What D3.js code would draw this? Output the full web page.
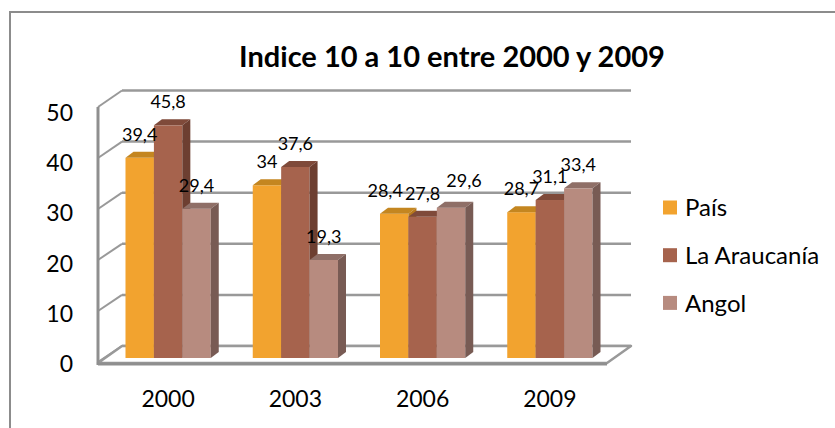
<!DOCTYPE html>
<html>
<head>
<meta charset="utf-8">
<script src="https://cdn.jsdelivr.net/npm/d3@7"></script>
<style>
  body { margin: 0; background: #fff; }
  text { font-family: Lato, "Open Sans", sans-serif; fill: #000; }
</style>
</head>
<body>
<svg></svg>
<script>
var W = 835, H = 428;

// data
var years = ["2000", "2003", "2006", "2009"];
var seriesNames = ["País", "La Araucanía", "Angol"];
var pais = [39.4, 34, 28.4, 28.7];
var araucania = [45.8, 37.6, 27.8, 31.1];
var angol = [29.4, 19.3, 29.6, 33.4];
var yTicks = [0, 10, 20, 30, 40, 50];
var title = "Indice 10 a 10 entre 2000 y 2009";

var seriesValues = [pais, araucania, angol];
var faceColors = [
  {front: "#f2a32f", top: "#c48620", side: "#b7781b"},
  {front: "#a6634d", top: "#7f4a3a", side: "#6d3f31"},
  {front: "#b78b7f", top: "#8f6f67", side: "#785b54"}
];

var svg = d3.select("svg").attr("width", W).attr("height", H);

// outer chart border (right and bottom edges are off the picture)
svg.append("rect")
  .attr("x", 10).attr("y", 12)
  .attr("width", W).attr("height", H)
  .attr("fill", "none").attr("stroke", "#8c8c8c").attr("stroke-width", 2);

// title
svg.append("text")
  .attr("x", 452).attr("y", 67)
  .attr("text-anchor", "middle")
  .style("font-size", "29px").style("font-weight", "bold")
  .text(title);

// 3d geometry: back wall, wall front edge, bar front face
var wallDepth = {dx: -24, dy: 16};
var barDepth = {dx: 8, dy: -6};
var backLeft = 122, backRight = 631;

var yBack = d3.scaleLinear().domain([0, 50]).range([346, 90.5]);
var yFrontEdge = d3.scaleLinear().domain([0, 50]).range([362, 107]);
var yLabel = d3.scaleLinear().domain([0, 50]).range([364, 112.5]);
var yBar = d3.scaleLinear().domain([0, 50]).range([358, 104]);

var x = d3.scaleBand()
  .domain(years)
  .range([104.5, 613.5])
  .paddingInner(0.33)
  .paddingOuter(0.165);

var xs = d3.scaleBand()
  .domain(seriesNames)
  .range([0, x.bandwidth()]);

var gridColor = "#999999";

// back wall gridlines
svg.append("g").selectAll("line")
  .data(yTicks)
  .enter()
  .append("line")
    .attr("x1", backLeft).attr("x2", backRight)
    .attr("y1", d => yBack(d)).attr("y2", d => yBack(d))
    .attr("stroke", gridColor).attr("stroke-width", 2.5);

// side wall diagonals
svg.append("g").selectAll("line")
  .data(yTicks)
  .enter()
  .append("line")
    .attr("x1", backLeft + wallDepth.dx).attr("y1", d => yFrontEdge(d))
    .attr("x2", backLeft).attr("y2", d => yBack(d))
    .attr("stroke", gridColor).attr("stroke-width", 2);

// floor
var floorFront = yBack(0) + wallDepth.dy + 1;
svg.append("path")
  .attr("d", "M" + backLeft + "," + yBack(0) +
    "L" + backRight + "," + yBack(0) +
    "L" + (backRight + wallDepth.dx) + "," + floorFront +
    "L" + (backLeft + wallDepth.dx) + "," + floorFront + "Z")
  .attr("fill", "#fff").attr("stroke", gridColor).attr("stroke-width", 2.5)
  .attr("stroke-linejoin", "round");

// front axis lines
svg.append("line")
  .attr("x1", backLeft + wallDepth.dx).attr("x2", backRight + wallDepth.dx)
  .attr("y1", floorFront + 1).attr("y2", floorFront + 1)
  .attr("stroke", "#8f8f8f").attr("stroke-width", 3);
svg.append("line")
  .attr("x1", backLeft + wallDepth.dx).attr("x2", backLeft + wallDepth.dx)
  .attr("y1", yFrontEdge(50)).attr("y2", floorFront + 2)
  .attr("stroke", "#8f8f8f").attr("stroke-width", 3);

// y tick labels
svg.append("g").selectAll("text")
  .data(yTicks)
  .enter()
  .append("text")
    .attr("x", 73).attr("y", d => yLabel(d))
    .attr("dy", "0.36em")
    .attr("text-anchor", "end")
    .style("font-size", "23px")
    .text(d => d);

// x tick labels
svg.append("g").selectAll("text")
  .data(years)
  .enter()
  .append("text")
    .attr("x", d => x(d) + x.bandwidth() / 2).attr("y", 407)
    .attr("text-anchor", "middle")
    .style("font-size", "23px")
    .text(d => d);

// bars
var bars = [];
years.forEach(function(yr, i) {
  seriesNames.forEach(function(s, j) {
    bars.push({year: yr, series: s, j: j, value: seriesValues[j][i]});
  });
});

var barG = svg.append("g");
bars.forEach(function(b) {
  var x0 = x(b.year) + xs(b.series), x1 = x0 + xs.bandwidth();
  var yt = yBar(b.value), yb = yBar(0);
  var c = faceColors[b.j];
  var g = barG.append("g");
  g.append("rect")
    .attr("x", x0).attr("y", yt)
    .attr("width", x1 - x0).attr("height", yb - yt)
    .attr("fill", c.front);
  g.append("path")
    .attr("d", "M" + x0 + "," + yt + "L" + (x0 + barDepth.dx) + "," + (yt + barDepth.dy) +
      "L" + (x1 + barDepth.dx) + "," + (yt + barDepth.dy) + "L" + x1 + "," + yt + "Z")
    .attr("fill", c.top);
  g.append("path")
    .attr("d", "M" + x1 + "," + yt + "L" + (x1 + barDepth.dx) + "," + (yt + barDepth.dy) +
      "L" + (x1 + barDepth.dx) + "," + (yb + barDepth.dy) + "L" + x1 + "," + yb + "Z")
    .attr("fill", c.side);
});

// data labels
var fmt = d => String(d).replace(".", ",");
var labelG = svg.append("g");
years.forEach(function(yr) {
  var group = bars.filter(b => b.year === yr).map(function(b) {
    var t = labelG.append("text")
      .attr("text-anchor", "middle")
      .style("font-size", "18px")
      .text(fmt(b.value));
    return {t: t, x: x(yr) + xs(b.series) + xs.bandwidth() / 2,
            y: yBar(b.value) - 17, w: t.node().getComputedTextLength()};
  });
  // push apart labels that collide at about the same height
  for (var i = 1; i < group.length; i++) {
    var a = group[i - 1], c = group[i];
    var overlap = (a.x + a.w / 2) - (c.x - c.w / 2);
    if (overlap > 0 && Math.abs(a.y - c.y) < 10) {
      if (i === 1) a.x -= overlap + 2;
      else { c.x += overlap + 6; c.y -= 4; }
    }
  }
  group.forEach(l => l.t.attr("x", l.x).attr("y", l.y));
});

// legend
var legend = svg.append("g").selectAll("g")
  .data(seriesNames)
  .enter()
  .append("g")
    .attr("transform", (d, i) => "translate(663," + (200.5 + i * 47.7) + ")");
legend.append("rect")
  .attr("width", 14).attr("height", 14)
  .attr("fill", (d, i) => faceColors[i].front);
legend.append("text")
  .attr("x", 22).attr("y", 7).attr("dy", "0.36em")
  .style("font-size", "24px")
  .text(d => d);
</script>
</body>
</html>
